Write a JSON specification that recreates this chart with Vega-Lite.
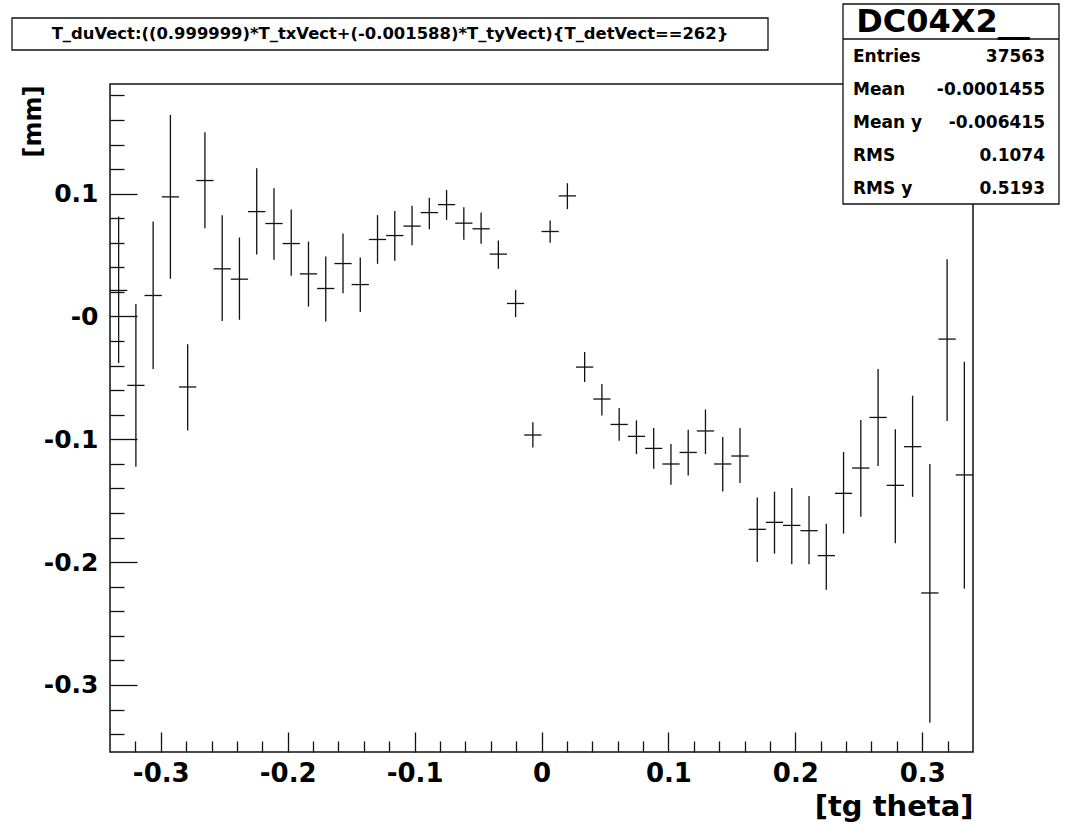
{
  "$schema": "https://vega.github.io/schema/vega-lite/v6.json",
  "width": 863,
  "height": 668,
  "autosize": {"type": "none"},
  "padding": {"left": 110, "top": 84, "right": 92, "bottom": 74},
  "background": "white",
  "config": {
    "view": {"stroke": "#111", "strokeWidth": 1.5},
    "font": "DejaVu Sans",
    "axis": {"domain": false, "grid": false, "tickColor": "#111", "tickWidth": 1.3, "labelColor": "black", "labelFont": "DejaVu Sans", "labelFontWeight": "bold", "titleColor": "black", "titleFont": "DejaVu Sans", "titleFontWeight": "bold"}
  },
  "datasets": {
    "bins": [
      {"x": -0.3332, "xlo": -0.3400, "xhi": -0.3264, "y": 0.0212, "ylo": -0.0379, "yhi": 0.0814},
      {"x": -0.3196, "xlo": -0.3264, "xhi": -0.3128, "y": -0.0561, "ylo": -0.1223, "yhi": 0.0101},
      {"x": -0.3060, "xlo": -0.3128, "xhi": -0.2992, "y": 0.0171, "ylo": -0.0428, "yhi": 0.0773},
      {"x": -0.2924, "xlo": -0.2992, "xhi": -0.2856, "y": 0.0974, "ylo": 0.0307, "yhi": 0.1641},
      {"x": -0.2788, "xlo": -0.2856, "xhi": -0.2720, "y": -0.0574, "ylo": -0.0928, "yhi": -0.0225},
      {"x": -0.2652, "xlo": -0.2720, "xhi": -0.2584, "y": 0.1107, "ylo": 0.0719, "yhi": 0.1500},
      {"x": -0.2516, "xlo": -0.2584, "xhi": -0.2448, "y": 0.0388, "ylo": -0.0037, "yhi": 0.0825},
      {"x": -0.2380, "xlo": -0.2448, "xhi": -0.2312, "y": 0.0304, "ylo": -0.0027, "yhi": 0.0643},
      {"x": -0.2244, "xlo": -0.2312, "xhi": -0.2176, "y": 0.0854, "ylo": 0.0504, "yhi": 0.1207},
      {"x": -0.2108, "xlo": -0.2176, "xhi": -0.2040, "y": 0.0757, "ylo": 0.0461, "yhi": 0.1045},
      {"x": -0.1972, "xlo": -0.2040, "xhi": -0.1904, "y": 0.0594, "ylo": 0.0331, "yhi": 0.0871},
      {"x": -0.1836, "xlo": -0.1904, "xhi": -0.1768, "y": 0.0347, "ylo": 0.0081, "yhi": 0.0610},
      {"x": -0.1700, "xlo": -0.1768, "xhi": -0.1632, "y": 0.0228, "ylo": -0.0041, "yhi": 0.0488},
      {"x": -0.1564, "xlo": -0.1632, "xhi": -0.1496, "y": 0.0431, "ylo": 0.0190, "yhi": 0.0675},
      {"x": -0.1428, "xlo": -0.1496, "xhi": -0.1360, "y": 0.0260, "ylo": 0.0036, "yhi": 0.0480},
      {"x": -0.1292, "xlo": -0.1360, "xhi": -0.1224, "y": 0.0627, "ylo": 0.0429, "yhi": 0.0825},
      {"x": -0.1156, "xlo": -0.1224, "xhi": -0.1088, "y": 0.0659, "ylo": 0.0453, "yhi": 0.0858},
      {"x": -0.1020, "xlo": -0.1088, "xhi": -0.0952, "y": 0.0736, "ylo": 0.0581, "yhi": 0.0901},
      {"x": -0.0884, "xlo": -0.0952, "xhi": -0.0816, "y": 0.0846, "ylo": 0.0711, "yhi": 0.0966},
      {"x": -0.0748, "xlo": -0.0816, "xhi": -0.0680, "y": 0.0911, "ylo": 0.0787, "yhi": 0.1031},
      {"x": -0.0612, "xlo": -0.0680, "xhi": -0.0544, "y": 0.0760, "ylo": 0.0624, "yhi": 0.0890},
      {"x": -0.0476, "xlo": -0.0544, "xhi": -0.0408, "y": 0.0714, "ylo": 0.0592, "yhi": 0.0846},
      {"x": -0.0340, "xlo": -0.0408, "xhi": -0.0272, "y": 0.0508, "ylo": 0.0388, "yhi": 0.0618},
      {"x": -0.0204, "xlo": -0.0272, "xhi": -0.0136, "y": 0.0106, "ylo": -0.0005, "yhi": 0.0217},
      {"x": -0.0068, "xlo": -0.0136, "xhi": 0.0000, "y": -0.0965, "ylo": -0.1066, "yhi": -0.0862},
      {"x": 0.0068, "xlo": 0.0000, "xhi": 0.0136, "y": 0.0692, "ylo": 0.0600, "yhi": 0.0781},
      {"x": 0.0204, "xlo": 0.0136, "xhi": 0.0272, "y": 0.0982, "ylo": 0.0874, "yhi": 0.1085},
      {"x": 0.0340, "xlo": 0.0272, "xhi": 0.0408, "y": -0.0412, "ylo": -0.0534, "yhi": -0.0290},
      {"x": 0.0476, "xlo": 0.0408, "xhi": 0.0544, "y": -0.0672, "ylo": -0.0806, "yhi": -0.0550},
      {"x": 0.0612, "xlo": 0.0544, "xhi": 0.0680, "y": -0.0879, "ylo": -0.1011, "yhi": -0.0745},
      {"x": 0.0748, "xlo": 0.0680, "xhi": 0.0816, "y": -0.0976, "ylo": -0.1120, "yhi": -0.0846},
      {"x": 0.0884, "xlo": 0.0816, "xhi": 0.0952, "y": -0.1074, "ylo": -0.1239, "yhi": -0.0908},
      {"x": 0.1020, "xlo": 0.0952, "xhi": 0.1088, "y": -0.1201, "ylo": -0.1369, "yhi": -0.1038},
      {"x": 0.1156, "xlo": 0.1088, "xhi": 0.1224, "y": -0.1107, "ylo": -0.1294, "yhi": -0.0922},
      {"x": 0.1292, "xlo": 0.1224, "xhi": 0.1360, "y": -0.0932, "ylo": -0.1120, "yhi": -0.0757},
      {"x": 0.1428, "xlo": 0.1360, "xhi": 0.1496, "y": -0.1201, "ylo": -0.1424, "yhi": -0.0981},
      {"x": 0.1564, "xlo": 0.1496, "xhi": 0.1632, "y": -0.1136, "ylo": -0.1356, "yhi": -0.0908},
      {"x": 0.1700, "xlo": 0.1632, "xhi": 0.1768, "y": -0.1733, "ylo": -0.1998, "yhi": -0.1473},
      {"x": 0.1836, "xlo": 0.1768, "xhi": 0.1904, "y": -0.1676, "ylo": -0.1931, "yhi": -0.1426},
      {"x": 0.1972, "xlo": 0.1904, "xhi": 0.2040, "y": -0.1701, "ylo": -0.2018, "yhi": -0.1396},
      {"x": 0.2108, "xlo": 0.2040, "xhi": 0.2176, "y": -0.1744, "ylo": -0.2018, "yhi": -0.1461},
      {"x": 0.2244, "xlo": 0.2176, "xhi": 0.2312, "y": -0.1947, "ylo": -0.2224, "yhi": -0.1687},
      {"x": 0.2380, "xlo": 0.2312, "xhi": 0.2448, "y": -0.1440, "ylo": -0.1768, "yhi": -0.1103},
      {"x": 0.2516, "xlo": 0.2448, "xhi": 0.2584, "y": -0.1234, "ylo": -0.1630, "yhi": -0.0843},
      {"x": 0.2652, "xlo": 0.2584, "xhi": 0.2720, "y": -0.0822, "ylo": -0.1217, "yhi": -0.0428},
      {"x": 0.2788, "xlo": 0.2720, "xhi": 0.2856, "y": -0.1375, "ylo": -0.1847, "yhi": -0.0919},
      {"x": 0.2924, "xlo": 0.2856, "xhi": 0.2992, "y": -0.1060, "ylo": -0.1468, "yhi": -0.0645},
      {"x": 0.3060, "xlo": 0.2992, "xhi": 0.3128, "y": -0.2251, "ylo": -0.3308, "yhi": -0.1201},
      {"x": 0.3196, "xlo": 0.3128, "xhi": 0.3264, "y": -0.0184, "ylo": -0.0851, "yhi": 0.0467},
      {"x": 0.3332, "xlo": 0.3264, "xhi": 0.3400, "y": -0.1290, "ylo": -0.2216, "yhi": -0.0369}
    ],
    "titlebox": [
      {"t": "T_duVect:((0.999999)*T_txVect+(-0.001588)*T_tyVect){T_detVect==262}"}
    ],
    "stats": [
      {"name": "DC04X2__", "labels": "Entries\nMean\nMean y\nRMS\nRMS y", "values": "37563\n-0.0001455\n-0.006415\n0.1074\n0.5193"}
    ]
  },
  "layer": [
    {
      "data": {"name": "bins"},
      "mark": {"type": "rule", "color": "#111", "strokeWidth": 1.3},
      "encoding": {
        "x": {"field": "x", "type": "quantitative", "scale": {"domain": [-0.34, 0.34], "nice": false, "zero": false},
          "axis": {"orient": "bottom", "values": [-0.32, -0.28, -0.26, -0.24, -0.22, -0.18, -0.16, -0.14, -0.12, -0.08, -0.06, -0.04, -0.02, 0.02, 0.04, 0.06, 0.08, 0.12, 0.14, 0.16, 0.18, 0.22, 0.24, 0.26, 0.28, 0.32], "tickSize": -11, "labels": false, "title": null}},
        "y": {"field": "ylo", "type": "quantitative", "scale": {"domain": [-0.3546, 0.1893], "nice": false, "zero": false},
          "axis": {"orient": "left", "values": [-0.34, -0.32, -0.28, -0.26, -0.24, -0.22, -0.18, -0.16, -0.14, -0.12, -0.08, -0.06, -0.04, -0.02, 0.02, 0.04, 0.06, 0.08, 0.12, 0.14, 0.16, 0.18], "tickSize": -14, "labels": false, "title": null}},
        "y2": {"field": "yhi"}
      }
    },
    {
      "data": {"name": "bins"},
      "mark": {"type": "rule", "color": "#111", "strokeWidth": 1.3},
      "encoding": {
        "x": {"field": "xlo", "type": "quantitative", "scale": {"domain": [-0.34, 0.34], "nice": false, "zero": false},
          "axis": {"orient": "bottom", "values": [-0.3, -0.2, -0.1, 0, 0.1, 0.2, 0.3], "tickSize": -20, "labelPadding": 28.6, "labelFontSize": 26, "labelBaseline": "top",
            "labelExpr": "datum.value == 0 ? '0' : (datum.value < 0 ? '-' : '') + format(abs(datum.value), '.1f')",
            "title": "[tg theta]", "titleFontSize": 29, "titleAnchor": "end", "titleAlign": "right", "titleX": 863, "titleY": 63, "titleBaseline": "alphabetic"}},
        "x2": {"field": "xhi"},
        "y": {"field": "y", "type": "quantitative", "scale": {"domain": [-0.3546, 0.1893], "nice": false, "zero": false},
          "axis": {"orient": "left", "values": [-0.3, -0.2, -0.1, 0, 0.1], "tickSize": -27, "labelPadding": 39, "labelFontSize": 25, "labelAlign": "right", "labelBaseline": "middle",
            "labelExpr": "datum.value == 0 ? '-0' : (datum.value < 0 ? '-' : '') + format(abs(datum.value), '.1f')",
            "title": "[mm]", "titleFontSize": 24, "titleAngle": -90, "titleAnchor": "end", "titleAlign": "right", "titleX": -70, "titleY": 1, "titleBaseline": "alphabetic"}}
      }
    },
    {
      "data": {"name": "titlebox"},
      "mark": {"type": "rect", "fill": "white", "stroke": "#111", "strokeWidth": 1.3},
      "encoding": {"x": {"value": -98}, "x2": {"value": 658}, "y": {"value": -66}, "y2": {"value": -34}}
    },
    {
      "data": {"name": "titlebox"},
      "mark": {"type": "text", "font": "DejaVu Sans", "fontWeight": "bold", "fontSize": 16.4, "align": "center", "baseline": "middle", "color": "black"},
      "encoding": {"text": {"field": "t"}, "x": {"value": 280}, "y": {"value": -50}}
    },
    {
      "data": {"name": "stats"},
      "mark": {"type": "rect", "fill": "white", "stroke": "#111", "strokeWidth": 1.3},
      "encoding": {"x": {"value": 733}, "x2": {"value": 949}, "y": {"value": -80}, "y2": {"value": 120}}
    },
    {
      "data": {"name": "stats"},
      "mark": {"type": "rule", "color": "#111", "strokeWidth": 1.3},
      "encoding": {"x": {"value": 733}, "x2": {"value": 949}, "y": {"value": -45}}
    },
    {
      "data": {"name": "stats"},
      "mark": {"type": "text", "font": "DejaVu Sans", "fontWeight": "bold", "fontSize": 32, "align": "center", "baseline": "alphabetic", "color": "black"},
      "encoding": {"text": {"field": "name"}, "x": {"value": 833}, "y": {"value": -52}}
    },
    {
      "data": {"name": "stats"},
      "mark": {"type": "text", "font": "DejaVu Sans", "fontWeight": "bold", "fontSize": 17, "align": "left", "baseline": "middle", "lineBreak": "\n", "lineHeight": 33, "color": "black"},
      "encoding": {"text": {"field": "labels"}, "x": {"value": 743}, "y": {"value": -27}}
    },
    {
      "data": {"name": "stats"},
      "mark": {"type": "text", "font": "DejaVu Sans", "fontWeight": "bold", "fontSize": 17, "align": "right", "baseline": "middle", "lineBreak": "\n", "lineHeight": 33, "color": "black"},
      "encoding": {"text": {"field": "values"}, "x": {"value": 935}, "y": {"value": -27}}
    }
  ],
  "resolve": {"axis": {"x": "independent", "y": "independent"}}
}
